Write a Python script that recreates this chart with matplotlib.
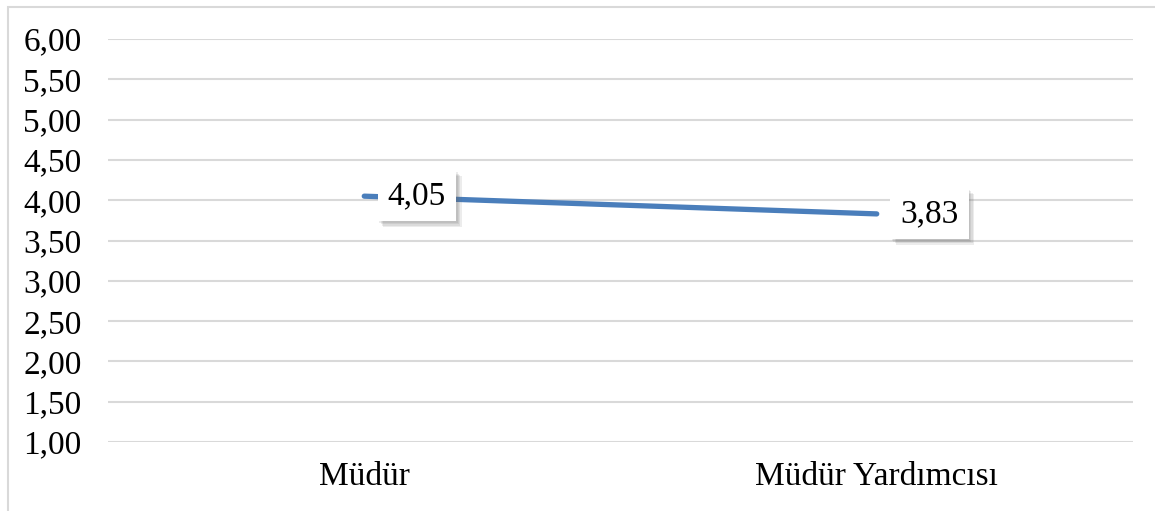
import numpy as np
import matplotlib.pyplot as plt
import matplotlib.patheffects as pe
from matplotlib.patches import Rectangle

categories = ["Müdür", "Müdür Yardımcısı"]
values = [4.05, 3.83]
value_labels = ["4,05", "3,83"]
y_ticks = [1.0, 1.5, 2.0, 2.5, 3.0, 3.5, 4.0, 4.5, 5.0, 5.5, 6.0]

plt.rcParams['font.family'] = ['Liberation Serif', 'DejaVu Serif']

fig = plt.figure(figsize=(11.55, 5.11), dpi=100)
ax = fig.add_axes([108 / 1155, 1 - 442 / 511, (1133 - 108) / 1155, (442 - 39) / 511])

# outer chart frame (only left and top visible in the reference)
fig.patches.append(Rectangle((8 / 1155, -0.1), 1.2, 1.1 - 7 / 511, transform=fig.transFigure,
                             fill=False, edgecolor='#D9D9D9', linewidth=1.5))

x = np.arange(len(categories))
ax.plot(x, values, color='#4A7EBB', linewidth=3.8, solid_capstyle='round', zorder=3)

# soft shadow: a few stacked offsets with low alpha
shadow = [pe.withSimplePatchShadow(offset=(d, -d), shadow_rgbFace='#666666', alpha=0.12)
          for d in (4, 3, 2, 1)]

for xi, v, lab in zip(x, values, value_labels):
    t = ax.annotate(lab, (xi, v), xytext=(17, 0), textcoords='offset points',
                    ha='left', va='center', fontsize=24, zorder=5,
                    bbox=dict(boxstyle='square,pad=0.3', facecolor='white', edgecolor='none'))
    t.get_bbox_patch().set_path_effects(shadow + [pe.Normal()])

ax.set_xlim(-0.5, 1.5)
ax.set_ylim(1, 6)
ax.set_yticks(y_ticks)
ax.set_yticklabels([f"{t:.2f}".replace('.', ',') for t in y_ticks], fontsize=24)
ax.set_xticks(x)
ax.set_xticklabels(categories, fontsize=24)
ax.tick_params(axis='y', length=0, pad=19)
ax.tick_params(axis='x', length=0, pad=14)
ax.grid(axis='y', color='#D9D9D9', linewidth=1.5)
ax.set_axisbelow(True)
for s in ax.spines.values():
    s.set_visible(False)

fig.savefig('out.png', dpi=100)
